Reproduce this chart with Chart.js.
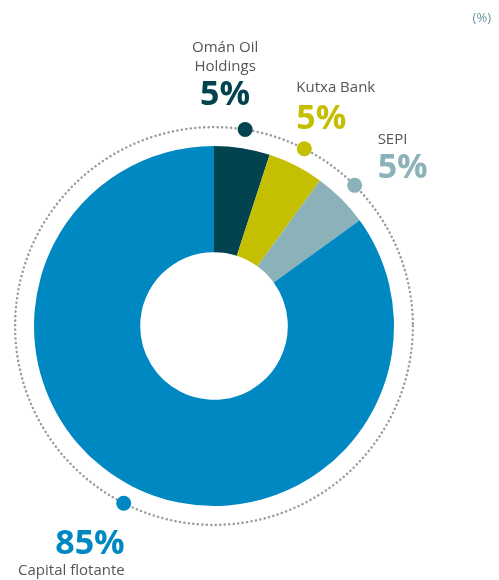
<!DOCTYPE html>
<html>
<head>
<meta charset="utf-8">
<script src="https://cdn.jsdelivr.net/npm/chart.js@4/dist/chart.umd.min.js"></script>
<style>
    body { margin: 0; background: #fff; }
    #wrap { position: relative; width: 499px; height: 580px; }
</style>
</head>
<body>
<div id="wrap"><canvas id="share_chart"></canvas></div>
<script>
// shareholders (%)
const holders = ['Omán Oil Holdings', 'Kutxa Bank', 'SEPI', 'Capital flotante'];
const holderLines = [['Omán Oil', 'Holdings'], ['Kutxa Bank'], ['SEPI'], ['Capital flotante']];
const shares = [5, 5, 5, 85];
const unitLabel = '(%)';

const colors = ['#03434f', '#c4bf00', '#8bb1b9', '#0088c2'];

// where the text sits next to each marker dot
const placement = [
    {align: 'center', dx: -20, nameDy: [-78, -59], valueDy: -25},
    {align: 'left', dx: -8, nameDy: [-57], valueDy: -20},
    {align: 'left', dx: 23, nameDy: [-41], valueDy: -7},
    {align: 'right', dx: 1, nameDy: [72], valueDy: 51}
];

const labelFont = '"Open Sans", "Noto Sans", sans-serif';

const ringPlugin = {
    id: 'ring',
    beforeDatasetsDraw(chart) {
        const arc = chart.getDatasetMeta(0).data[0];
        const ctx = chart.ctx;
        const r = arc.outerRadius * 1.105;
        //dotted circle around the doughnut
        ctx.save();
        ctx.strokeStyle = '#9c9c9c';
        ctx.lineWidth = 2.5;
        ctx.lineCap = 'round';
        ctx.setLineDash([0.1, 4.4]);
        ctx.beginPath();
        ctx.arc(arc.x, arc.y, r, 0, Math.PI * 2);
        ctx.stroke();
        ctx.restore();
    },
    afterDatasetsDraw(chart) {
        const meta = chart.getDatasetMeta(0);
        const ctx = chart.ctx;
        ctx.save();
        meta.data.forEach((arc, i) => {
            const mid = (arc.startAngle + arc.endAngle) / 2;
            const r = arc.outerRadius * 1.105;
            const px = arc.x + Math.cos(mid) * r;
            const py = arc.y + Math.sin(mid) * r;
            // marker dot
            ctx.fillStyle = colors[i];
            ctx.beginPath();
            ctx.arc(px, py, 7.5, 0, Math.PI * 2);
            ctx.fill();

            const p = placement[i];
            const tx = px + p.dx;
            ctx.textAlign = p.align;
            ctx.textBaseline = 'alphabetic';
            ctx.fillStyle = '#555555';
            ctx.font = '15px ' + labelFont;
            holderLines[i].forEach((line, j) => {
                ctx.fillText(line, tx, py + p.nameDy[j]);
            });
            ctx.fillStyle = colors[i];
            ctx.font = 'bold 34px ' + labelFont;
            ctx.fillText(shares[i] + '%', tx, py + p.valueDy);
        });
        // unit note top right
        ctx.textAlign = 'right';
        ctx.fillStyle = '#6a93a0';
        ctx.font = '13px ' + labelFont;
        ctx.fillText(unitLabel, 491, 22);
        ctx.restore();
    }
};

new Chart(document.getElementById('share_chart'), {
    type: 'doughnut',
    data: {
        labels: holders,
        datasets: [{
            data: shares,
            backgroundColor: colors,
            borderWidth: 0,
            hoverOffset: 0
        }]
    },
    options: {
        responsive: true,
        maintainAspectRatio: false,
        animation: false,
        cutout: '41%',
        layout: {
            padding: {left: 34, right: 105, top: 146, bottom: 74}
        },
        plugins: {
            legend: {display: false},
            tooltip: {enabled: false}
        }
    },
    plugins: [ringPlugin]
});
</script>
</body>
</html>
